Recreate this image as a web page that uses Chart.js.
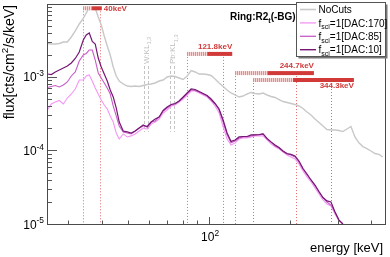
<!DOCTYPE html>
<html>
<head>
<meta charset="utf-8">
<script src="https://cdn.jsdelivr.net/npm/chart.js@4.4.1/dist/chart.umd.min.js"></script>
<style>
  html, body { margin: 0; padding: 0; background: #fff; }
  #wrap { width: 390px; height: 257px; position: relative; }
</style>
</head>
<body>
<div id="wrap"><canvas id="spec"></canvas></div>
<script>
// spectrum.js — Ring:R2t(-BG) flux spectra

// bin centres [keV]
const energy = [25.12, 25.99, 26.89, 27.83, 28.80, 29.80, 30.83, 31.89, 33.00, 34.15, 35.03, 35.94, 36.87, 37.82, 38.80,
  39.81, 40.84, 41.90, 42.98, 44.10, 45.24, 46.42, 48.03, 49.69, 51.41, 53.19, 55.04, 56.95, 58.92, 60.96,
  63.10, 65.28, 67.54, 69.88, 72.31, 74.82, 77.43, 80.12, 82.89, 85.77, 88.75, 91.83, 95.02, 98.31, 101.7,
  105.2, 108.9, 112.7, 116.6, 120.6, 124.8, 129.2, 133.6, 138.3, 143.1, 148.1, 153.2, 158.5, 164.0, 169.7,
  175.6, 181.7, 188.0, 194.5, 201.2, 208.2, 215.4, 222.9, 230.7, 238.7, 247.0, 255.5, 264.4, 273.5, 283.1,
  292.9, 303.0, 313.5, 324.4, 335.7, 347.3, 359.4, 371.8, 384.8, 398.1, 411.9, 426.2, 441.0];

// flux [cts/cm2/s/keV]
const noCuts = [2.86e-3, 2.81e-3, 2.81e-3, 2.86e-3, 2.99e-3, 2.99e-3, 3.50e-3, 4.23e-3, 5.26e-3, 6.25e-3, 7.43e-3, 8.69e-3, 8.42e-3, 8.69e-3, 6.55e-3,
  5.10e-3, 3.61e-3, 2.64e-3, 1.99e-3, 1.37e-3, 1.03e-3, 8.82e-4, 8.03e-4, 7.54e-4, 7.43e-4, 7.54e-4, 7.43e-4, 7.66e-4, 7.91e-4, 8.03e-4,
  8.29e-4, 8.82e-4, 9.10e-4, 1.00e-3, 1.03e-3, 1.016e-3, 9.69e-4, 9.25e-4, 1.03e-3, 1.226e-3, 1.17e-3, 1.098e-3, 1.098e-3, 1.081e-3, 1.048e-3,
  9.39e-4, 8.29e-4, 7.43e-4, 6.65e-4, 6.06e-4, 5.69e-4, 5.34e-4, 5.51e-4, 5.87e-4, 6.16e-4, 5.96e-4, 5.87e-4, 6.06e-4, 5.69e-4, 5.43e-4,
  5.26e-4, 4.94e-4, 4.64e-4, 4.50e-4, 4.36e-4, 4.23e-4, 4.03e-4, 3.73e-4, 3.34e-4, 3.04e-4, 2.68e-4, 2.40e-4, 2.15e-4, 1.93e-4, 1.90e-4,
  1.90e-4, 1.87e-4, 1.81e-4, 1.96e-4, 2.12e-4, 1.53e-4, 1.27e-4, 1.13e-4, 1.06e-4, 9.84e-5, 9.09e-5, 8.84e-5, 8.16e-5];

const dac170 = [3.56e-4, 4.29e-4, 4.57e-4, 4.79e-4, 4.29e-4, 5.18e-4, 5.87e-4, 6.87e-4, 9.10e-4, 9.10e-4, 1.032e-3, 1.065e-3, 8.82e-4, 7.08e-4, 5.87e-4,
  4.86e-4, 4.16e-4, 3.67e-4, 2.95e-4, 2.44e-4, 1.73e-4, 1.43e-4, 1.68e-4, 1.53e-4, 1.58e-4, 1.68e-4, 1.84e-4, 2.02e-4, 1.96e-4, 2.29e-4,
  2.44e-4, 2.68e-4, 3.24e-4, 3.56e-4, 4.03e-4, 4.16e-4, 4.57e-4, 5.02e-4, 5.69e-4, 6.45e-4, 6.45e-4, 6.06e-4, 5.69e-4, 5.34e-4, 4.72e-4,
  4.03e-4, 3.24e-4, 2.09e-4, 1.43e-4, 1.19e-4, 1.27e-4, 1.43e-4, 1.48e-4, 1.48e-4, 1.53e-4, 1.58e-4, 1.58e-4, 1.58e-4, 1.39e-4, 1.23e-4,
  1.12e-4, 1.05e-4, 9.54e-5, 8.69e-5, 8.16e-5, 7.66e-5, 6.55e-5, 5.26e-5, 4.36e-5, 3.73e-5, 3.09e-5, 2.56e-5, 2.12e-5, 1.87e-5, 1.76e-5,
  1.37e-5, 1.10e-5, 1.00e-5];

const dac85 = [7.20e-4, 7.43e-4, 7.66e-4, 7.31e-4, 7.78e-4, 8.55e-4, 1.032e-3, 1.17e-3, 1.65e-3, 1.99e-3, 2.09e-3, 2.33e-3, 2.33e-3, 1.70e-3, 1.134e-3,
  9.69e-4, 8.29e-4, 7.08e-4, 5.87e-4, 4.03e-4, 2.95e-4, 2.15e-4, 1.79e-4, 1.73e-4, 1.68e-4, 1.84e-4, 2.02e-4, 2.15e-4, 2.15e-4, 2.44e-4,
  2.52e-4, 2.86e-4, 3.45e-4, 3.79e-4, 4.16e-4, 4.29e-4, 4.72e-4, 5.26e-4, 5.96e-4, 6.65e-4, 6.55e-4, 6.25e-4, 5.87e-4, 5.51e-4, 4.86e-4,
  4.29e-4, 3.56e-4, 2.44e-4, 1.63e-4, 1.27e-4, 1.35e-4, 1.48e-4, 1.53e-4, 1.53e-4, 1.58e-4, 1.63e-4, 1.63e-4, 1.68e-4, 1.43e-4, 1.29e-4,
  1.15e-4, 1.08e-4, 9.68e-5, 8.97e-5, 8.69e-5, 8.16e-5, 6.98e-5, 5.60e-5, 4.64e-5, 3.97e-5, 3.29e-5, 2.72e-5, 2.26e-5, 1.99e-5, 1.81e-5,
  1.46e-5, 1.13e-5, 1.00e-5];

const dac10 = [1.098e-3, 1.081e-3, 1.17e-3, 1.245e-3, 1.326e-3, 1.41e-3, 1.55e-3, 1.785e-3, 2.19e-3, 3.19e-3, 3.73e-3, 3.97e-3, 3.04e-3, 2.81e-3, 1.81e-3,
  1.37e-3, 1.098e-3, 8.82e-4, 6.65e-4, 5.34e-4, 3.79e-4, 2.44e-4, 1.84e-4, 1.79e-4, 1.73e-4, 1.84e-4, 2.02e-4, 2.22e-4, 2.09e-4, 2.44e-4,
  2.68e-4, 2.86e-4, 3.50e-4, 3.91e-4, 4.23e-4, 4.36e-4, 4.72e-4, 5.34e-4, 6.06e-4, 6.87e-4, 6.76e-4, 6.35e-4, 5.96e-4, 5.60e-4, 5.02e-4,
  4.36e-4, 3.67e-4, 2.60e-4, 1.73e-4, 1.33e-4, 1.39e-4, 1.53e-4, 1.55e-4, 1.55e-4, 1.63e-4, 1.63e-4, 1.65e-4, 1.68e-4, 1.46e-4, 1.31e-4,
  1.19e-4, 1.10e-4, 9.84e-5, 9.09e-5, 8.84e-5, 8.42e-5, 7.20e-5, 5.69e-5, 4.79e-5, 3.97e-5, 3.39e-5, 2.77e-5, 2.29e-5, 2.06e-5, 1.99e-5,
  1.46e-5, 1.13e-5, 1.00e-5];

// energy windows (red) and peak labels
const peakLabels = ['40keV', '121.8keV', '244.7keV', '344.3keV'];
const peakEnergy = [40, 121.8, 244.7, 344.3];
const windowLow = [34.2, 82.7, 125.2, 145.9];
const windowHigh = [39.3, 113.0, 209.9, 282.3];
const solidFrom = [36.8, 98.6, 165, 205];
const barFlux = [8.6e-3, 2.06e-3, 1.13e-3, 9.1e-4];

// x-ray lines (grey dashed)
const xrayNames = ['W:KL', 'Pb:KL'];
const xrayEnergy = [[57.4, 59.1], [71.9, 74.3]];
const xrayFluxTop = 1.41e-3;
const xrayFluxBottom = 1.79e-4;

const yDecades = [1e-5, 1e-4, 1e-3];
const xDecades = [100];

const FONT = '"Liberation Sans", Arial, Helvetica, sans-serif';
const RED = '#d23a3a';

const series = [
  { label: 'NoCuts', sub: null, data: noCuts, color: '#c8c8c8', width: 1.4 },
  { label: 'f', sub: 'sci', rest: '=1[DAC:170]', data: dac170, color: '#f596f5', width: 1.1 },
  { label: 'f', sub: 'sci', rest: '=1[DAC:85]', data: dac85, color: '#c75cc7', width: 1.1 },
  { label: 'f', sub: 'sci', rest: '=1[DAC:10]', data: dac10, color: '#741874', width: 1.2 },
];

// ── helpers ──

function pieceFont(size, mode, bold) {
  const s = mode ? size * 0.7 : size;
  return (bold ? 'bold ' : '') + s.toFixed(1) + 'px ' + FONT;
}

function drawRich(ctx, parts, x, y, size, align, bold) {
  let w = 0;
  parts.forEach(p => { ctx.font = pieceFont(size, p[1], bold); w += ctx.measureText(p[0]).width; });
  let cx = align === 'right' ? x - w : align === 'center' ? x - w / 2 : x;
  ctx.textAlign = 'left';
  ctx.textBaseline = 'alphabetic';
  parts.forEach(p => {
    ctx.font = pieceFont(size, p[1], bold);
    const dy = p[1] === 1 ? -size * 0.42 : p[1] === -1 ? size * 0.28 : 0;
    ctx.fillText(p[0], cx, y + dy);
    cx += ctx.measureText(p[0]).width;
  });
  return w;
}

function minorValues(min, max) {
  const out = [];
  for (let d = Math.floor(Math.log10(min)); d <= Math.ceil(Math.log10(max)); d++) {
    for (let m = 2; m <= 9; m++) {
      const v = m * Math.pow(10, d);
      if (v > min && v < max) out.push(v);
    }
  }
  return out;
}

// ── background marks: windows, x-ray lines ──

const markersPlugin = {
  id: 'markers',
  beforeDatasetsDraw(chart) {
    const { ctx, scales: { x, y }, chartArea } = chart;
    ctx.save();
    ctx.beginPath();
    ctx.rect(chartArea.left, chartArea.top, chartArea.right - chartArea.left, chartArea.bottom - chartArea.top);
    ctx.clip();

    // grey x-ray lines
    ctx.strokeStyle = '#c4c4c4';
    ctx.lineWidth = 1;
    ctx.setLineDash([3, 2]);
    xrayEnergy.forEach(pair => pair.forEach(e => {
      const px = Math.round(x.getPixelForValue(e)) + 0.5;
      ctx.beginPath();
      ctx.moveTo(px, y.getPixelForValue(xrayFluxTop));
      ctx.lineTo(px, y.getPixelForValue(xrayFluxBottom));
      ctx.stroke();
    }));

    // red window edges
    ctx.strokeStyle = '#e46b6b';
    ctx.setLineDash([1, 2]);
    peakEnergy.forEach((_, i) => {
      const top = y.getPixelForValue(barFlux[i]);
      [windowLow[i], windowHigh[i]].forEach(e => {
        const px = Math.round(x.getPixelForValue(e)) + 0.5;
        ctx.beginPath();
        ctx.moveTo(px, top);
        ctx.lineTo(px, chartArea.bottom);
        ctx.stroke();
      });
    });
    ctx.setLineDash([]);
    ctx.restore();
  },
  afterDatasetsDraw(chart) {
    const { ctx, scales: { x, y } } = chart;
    ctx.save();

    // x-ray labels (rotated)
    ctx.fillStyle = '#bdbdbd';
    xrayNames.forEach((name, i) => {
      const px = x.getPixelForValue((xrayEnergy[i][0] + xrayEnergy[i][1]) / 2) + 3;
      ctx.save();
      ctx.translate(px, y.getPixelForValue(xrayFluxTop) - 2);
      ctx.rotate(-Math.PI / 2);
      drawRich(ctx, [[name, 0], ['1,3', -1]], 0, 0, 8, 'left', false);
      ctx.restore();
    });

    // red bars + labels
    peakEnergy.forEach((pk, i) => {
      const yc = y.getPixelForValue(barFlux[i]);
      const x0 = x.getPixelForValue(windowLow[i]);
      const x1 = x.getPixelForValue(solidFrom[i]);
      const x2 = x.getPixelForValue(pk);
      ctx.fillStyle = '#f8d6d6';
      ctx.fillRect(x0, yc - 2, x1 - x0, 4);
      ctx.fillStyle = '#ea8a8a';
      for (let sx = Math.round(x0); sx < x1; sx += 2) ctx.fillRect(sx, yc - 2, 1, 4);
      ctx.fillStyle = RED;
      ctx.fillRect(x1, yc - 2, x2 - x1, 4);

      ctx.font = 'bold 8px ' + FONT;
      ctx.textBaseline = 'middle';
      if (i === 0) {
        ctx.textAlign = 'left';
        ctx.fillText(peakLabels[i], x2 + 2, yc + 0.5);
      } else if (i === 3) {
        ctx.textAlign = 'right';
        ctx.fillText(peakLabels[i], x2, yc + 5.5);
      } else {
        ctx.textAlign = 'right';
        ctx.fillText(peakLabels[i], x2, yc - 7.5);
      }
    });
    ctx.restore();
  }
};

// ── frame, inward ticks, labels, legend ──

const framePlugin = {
  id: 'frame',
  afterDraw(chart) {
    const { ctx, scales: { x, y }, chartArea: a } = chart;
    ctx.save();
    ctx.strokeStyle = '#555';
    ctx.lineWidth = 1;

    // ticks
    ctx.beginPath();
    yDecades.forEach(v => {
      const py = Math.round(y.getPixelForValue(v)) + 0.5;
      ctx.moveTo(a.left, py); ctx.lineTo(a.left + 10, py);
    });
    minorValues(y.min, y.max).forEach(v => {
      const py = Math.round(y.getPixelForValue(v)) + 0.5;
      ctx.moveTo(a.left, py); ctx.lineTo(a.left + 5, py);
    });
    xDecades.forEach(v => {
      const px = Math.round(x.getPixelForValue(v)) + 0.5;
      ctx.moveTo(px, a.bottom); ctx.lineTo(px, a.bottom - 7);
    });
    minorValues(x.min, x.max).forEach(v => {
      const px = Math.round(x.getPixelForValue(v)) + 0.5;
      ctx.moveTo(px, a.bottom); ctx.lineTo(px, a.bottom - 3.5);
    });
    ctx.stroke();

    // frame
    ctx.strokeStyle = '#4a4a4a';
    ctx.strokeRect(Math.round(a.left) + 0.5, Math.round(a.top) + 0.5,
      Math.round(a.right - a.left), Math.round(a.bottom - a.top));

    // tick labels
    ctx.fillStyle = '#000';
    yDecades.forEach(v => {
      const py = y.getPixelForValue(v);
      drawRich(ctx, [['10', 0], [String(Math.round(Math.log10(v))), 1]], a.left - 3, py + 4.5, 12, 'right', false);
    });
    xDecades.forEach(v => {
      const px = x.getPixelForValue(v);
      drawRich(ctx, [['10', 0], [String(Math.round(Math.log10(v))), 1]], px + 1, a.bottom + 17, 12, 'center', false);
    });

    // axis titles
    drawRich(ctx, [['energy [keV]', 0]], a.right - 2, 252, 13, 'right', false);
    ctx.save();
    ctx.translate(14, a.top + 1);
    ctx.rotate(-Math.PI / 2);
    drawRich(ctx, [['flux[cts/cm', 0], ['2', 1], ['/s/keV]', 0]], 0, 0, 14, 'right', false);
    ctx.restore();

    // title text
    drawRich(ctx, [['Ring:R2', 0], ['t', -1], ['(-BG)', 0]], 230, 20, 10, 'left', true);

    // legend
    const lx = 296.5, ly = 2.5, lw = 89, lh = 54;
    ctx.fillStyle = '#777';
    ctx.fillRect(lx + 2, ly + 2, lw, lh);
    ctx.fillStyle = '#fff';
    ctx.fillRect(lx, ly, lw, lh);
    ctx.strokeStyle = '#555';
    ctx.strokeRect(lx, ly, lw, lh);
    series.forEach((s, i) => {
      const cy = 9.5 + i * 13.4;
      ctx.strokeStyle = s.color;
      ctx.lineWidth = s.width + 0.2;
      ctx.beginPath();
      ctx.moveTo(300, cy); ctx.lineTo(316, cy);
      ctx.stroke();
      ctx.fillStyle = '#000';
      const parts = s.sub ? [[s.label, 0], [s.sub, -1], [s.rest, 0]] : [[s.label, 0]];
      drawRich(ctx, parts, 318.5, cy + 3.6, 10, 'left', false);
    });
    ctx.restore();
  }
};

// ── chart ──

const datasets = series.map((s, i) => ({
  label: s.sub ? s.label + s.sub + s.rest : s.label,
  data: s.data.map((v, k) => ({ x: energy[k], y: v })),
  borderColor: s.color,
  borderWidth: s.width,
  pointRadius: 0,
  tension: 0,
  fill: false,
  order: series.length - i,
}));

new Chart(document.getElementById('spec'), {
  type: 'line',
  data: { datasets },
  options: {
    responsive: true,
    maintainAspectRatio: false,
    animation: false,
    events: [],
    layout: { padding: { left: 47, right: 5, top: 4, bottom: 33 } },
    plugins: { legend: { display: false }, tooltip: { enabled: false } },
    scales: {
      x: { type: 'logarithmic', min: 25.05, max: 449, display: false },
      y: { type: 'logarithmic', min: 1e-5, max: 9.84e-3, display: false }
    }
  },
  plugins: [markersPlugin, framePlugin]
});
</script>
</body>
</html>
